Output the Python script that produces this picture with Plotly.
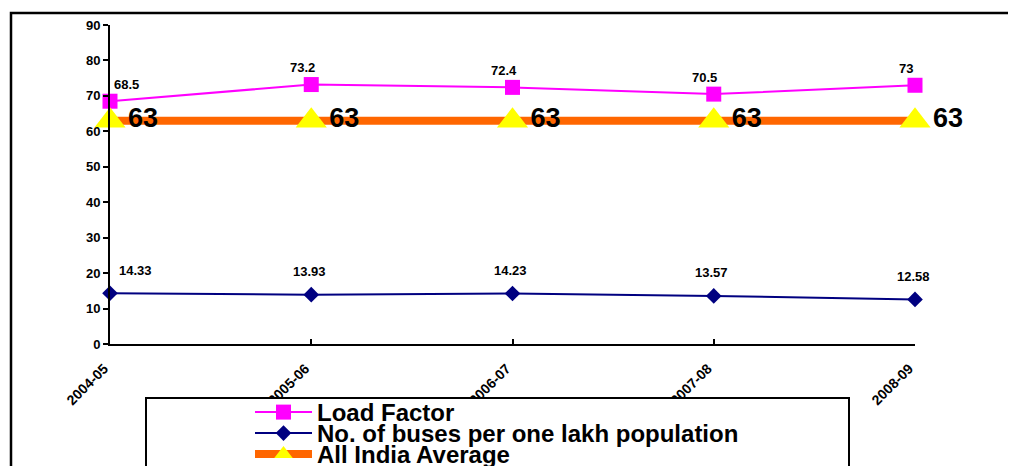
import plotly.graph_objects as go

# ---- data ----
years = ["2004-05", "2005-06", "2006-07", "2007-08", "2008-09"]
load_factor = [68.5, 73.2, 72.4, 70.5, 73]
buses_per_lakh = [14.33, 13.93, 14.23, 13.57, 12.58]
all_india_avg = [63, 63, 63, 63, 63]

FONT = "Liberation Sans, Arial, sans-serif"
OFF = 8  # page body margin
W, H = 1016 - OFF, 466 - OFF
# plot area in page pixels: x 110..915, y 25..344
L, T = 110 - OFF, 25 - OFF
R, B = W - (915 - OFF), H - (344 - OFF)
PW, PH = W - L - R, H - T - B


def px_x(px):
    return (px - OFF - L) / PW


def px_y(py):
    return (H - B - (py - OFF)) / PH


fig = go.Figure()

fig.add_trace(go.Scatter(
    x=years, y=load_factor, name="Load Factor", mode="lines+markers",
    line=dict(color="#FF00FF", width=2),
    marker=dict(symbol="square", size=15, color="#FF00FF"),
    cliponaxis=False, legend="legend",
))
fig.add_trace(go.Scatter(
    x=years, y=buses_per_lakh, name="No. of buses per one lakh population",
    mode="lines+markers",
    line=dict(color="#000080", width=2),
    marker=dict(symbol="diamond", size=12, color="#000080"),
    cliponaxis=False, legend="legend2",
))
fig.add_trace(go.Scatter(
    x=years, y=all_india_avg, name="All India Average", mode="lines+markers+text",
    line=dict(color="#FF6600", width=8),
    marker=dict(symbol="triangle-up", size=27, color="#FFFF00"),
    text=[str(v) for v in all_india_avg], textposition="middle right",
    textfont=dict(family=FONT, size=27, color="black", weight="bold"),
    cliponaxis=False, legend="legend3",
))

LBL = dict(family=FONT, size=13, color="black", weight="bold")
annotations = []
for i, (c, v) in enumerate(zip(years, load_factor)):
    annotations.append(dict(x=c, y=v, text=str(v), showarrow=False,
                            yshift=17, xshift=16 if i == 0 else -9, font=LBL))
for i, (c, v) in enumerate(zip(years, buses_per_lakh)):
    annotations.append(dict(x=c, y=v, text=f"{v:.2f}", showarrow=False,
                            yshift=23, xshift=25 if i == 0 else -2, font=LBL))

shapes = [
    # outer chart border
    dict(type="rect", xref="paper", yref="paper",
         x0=px_x(11), x1=px_x(1030), y0=px_y(13), y1=px_y(480),
         line=dict(color="black", width=2.5), fillcolor="rgba(0,0,0,0)", layer="below"),
    # legend box
    dict(type="rect", xref="paper", yref="paper",
         x0=px_x(146), x1=px_x(849), y0=px_y(398), y1=px_y(480),
         line=dict(color="black", width=2), fillcolor="white", layer="above"),
]


def legend_at(center_px):
    return dict(
        x=px_x(250), y=px_y(center_px - 23), xanchor="left", yanchor="top",
        bgcolor="rgba(0,0,0,0)", borderwidth=0,
        font=dict(family=FONT, size=24, color="black", weight="bold"),
        itemwidth=57,
    )


fig.update_layout(
    width=W, height=H,
    margin=dict(l=L, r=R, t=T, b=B, autoexpand=False),
    paper_bgcolor="white", plot_bgcolor="white",
    font=dict(family=FONT, color="black"),
    showlegend=True,
    legend=legend_at(413),
    legend2=legend_at(434),
    legend3=legend_at(455),
    xaxis=dict(
        type="category", range=[0, 4], showgrid=False,
        showline=True, linecolor="black", linewidth=2,
        ticks="inside", ticklen=5, tickwidth=2, tickcolor="black",
        tickangle=-45, ticklabelstandoff=9, ticklabelshift=-6,
        tickfont=dict(family=FONT, size=14, color="black", weight="bold"),
    ),
    yaxis=dict(
        range=[0, 90], dtick=10, showgrid=False, zeroline=False,
        showline=True, linecolor="black", linewidth=2,
        ticks="outside", ticklen=5, tickwidth=2, tickcolor="black",
        tickfont=dict(family=FONT, size=13, color="black", weight="bold"),
    ),
    annotations=annotations,
    shapes=shapes,
)

fig.write_html("out.html")
